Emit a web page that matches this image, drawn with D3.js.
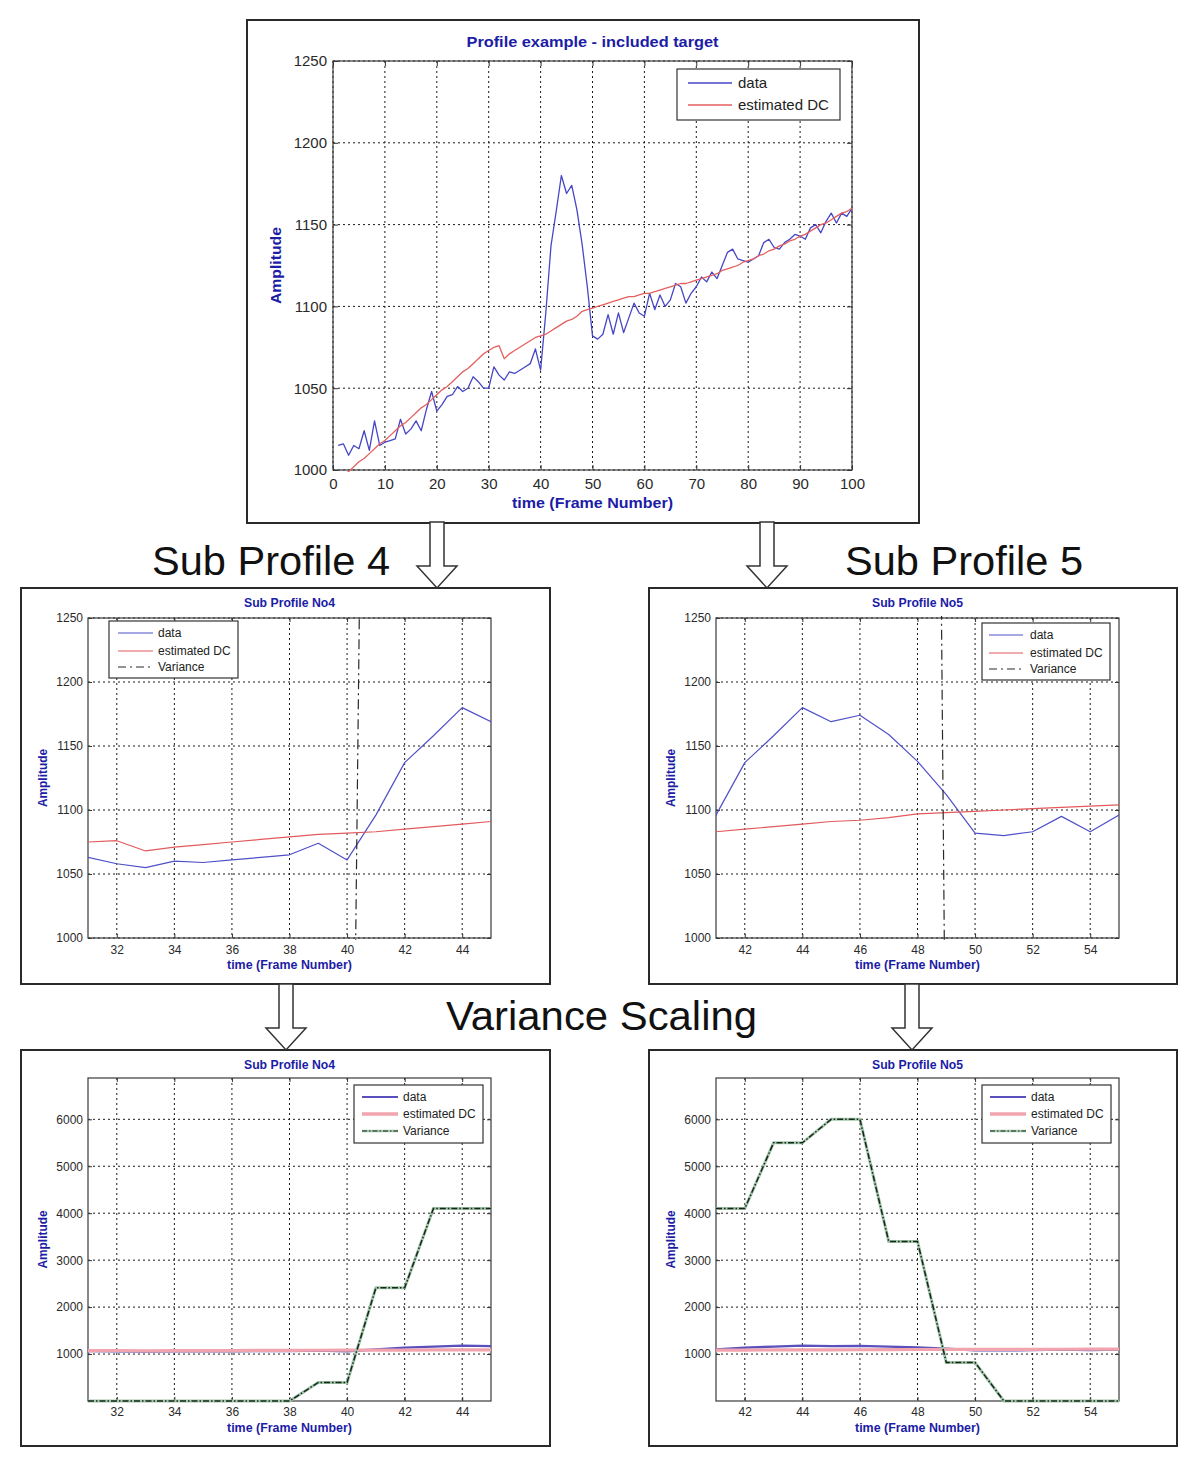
<!DOCTYPE html>
<html><head><meta charset="utf-8">
<script src="https://cdn.jsdelivr.net/npm/d3@7"></script>
<style>
body{margin:0;background:#fff}
svg{display:block}
text{font-family:"Liberation Sans",Arial,Helvetica,sans-serif}
</style>
</head><body>
<svg id="c" width="1200" height="1461"></svg>
<script>
// ---------------- DATA ----------------
const frames = d3.range(1, 101);
const dataValues = [
 1015,1016,1009,1015,1013,1024,1012,1030,1015,1017,
 1018,1019,1031,1022,1025,1030,1024,1037,1048,1036,
 1040,1045,1046,1051,1048,1050,1057,1054,1050,1050,
 1063,1058,1055,1060,1059,1061,1063,1065,1074,1061,
 1096,1137,1158,1180,1169,1174,1159,1138,1112,1082,
 1080,1083,1095,1083,1096,1084,1093,1102,1096,1094,
 1108,1098,1107,1100,1104,1114,1112,1102,1108,1112,
 1118,1115,1121,1117,1125,1133,1135,1129,1128,1127,
 1129,1131,1139,1141,1136,1135,1139,1141,1144,1143,
 1141,1148,1150,1145,1152,1157,1151,1157,1155,1160];
const dcValues = [
 994,997,999,1002,1005,1007,1010,1013,1016,1018,
 1021,1024,1027,1029,1032,1035,1038,1040,1043,1046,
 1049,1051,1054,1057,1060,1062,1065,1068,1071,1073,
 1075,1076,1068,1071,1073,1075,1077,1079,1081,1082,
 1083,1085,1087,1089,1091,1092,1094,1097,1098,1099,
 1100,1101,1102,1103,1104,1105,1106,1106,1107,1108,
 1108,1109,1110,1111,1112,1113,1114,1114,1115,1116,
 1117,1118,1119,1120,1122,1123,1124,1125,1127,1128,
 1129,1131,1132,1134,1135,1137,1138,1140,1141,1143,
 1144,1146,1148,1150,1151,1153,1155,1157,1158,1160];
const var4Frames = [31,32,33,34,35,36,37,38,39,40,41,42,43,44,45];
const var4Values = [0,0,0,0,0,0,0,0,395,395,2410,2410,4100,4100,4100];
const var5Frames = [41,42,43,44,45,46,47,48,49,50,51,52,53,54,55];
const var5Values = [4100,4100,5500,5500,6000,6000,3400,3400,820,820,0,0,0,0,0];

const topXTicks = [0,10,20,30,40,50,60,70,80,90,100];
const ampTicks = [1000,1050,1100,1150,1200,1250];
const sub4XTicks = [32,34,36,38,40,42,44];
const sub5XTicks = [42,44,46,48,50,52,54];
const scaledYTicks = [1000,2000,3000,4000,5000,6000];
const legendTop = ["data","estimated DC"];
const legendSub = ["data","estimated DC","Variance"];

// ---------------- DRAW ----------------
const svg = d3.select("#c");
const BLUE_TXT = "#1c1ca6";
const pair = (xs, ys) => xs.map((v,i)=>[v, ys[i]]);
const mainData = pair(frames, dataValues);
const mainDC = pair(frames, dcValues);
let clipId = 0;

function drawPanel(c){
  const g = svg.append("g");
  g.append("rect").attr("x",c.fx).attr("y",c.fy).attr("width",c.fw).attr("height",c.fh)
    .attr("fill","#fff").attr("stroke","#2a2a2a").attr("stroke-width",2);
  const x = d3.scaleLinear().domain(c.xd).range([c.l,c.r]);
  const y = d3.scaleLinear().domain(c.yd).range([c.b,c.t]);
  g.append("rect").attr("x",c.l).attr("y",c.t).attr("width",c.r-c.l).attr("height",c.b-c.t).attr("fill","#fff");
  // grid
  g.append("g").selectAll("line").data(c.xt).join("line")
    .attr("x1",d=>x(d)).attr("x2",d=>x(d)).attr("y1",c.t).attr("y2",c.b)
    .attr("stroke","#1a1a1a").attr("stroke-width",1).attr("stroke-dasharray","2,3");
  g.append("g").selectAll("line").data(c.yt).join("line")
    .attr("y1",d=>y(d)).attr("y2",d=>y(d)).attr("x1",c.l).attr("x2",c.r)
    .attr("stroke","#1a1a1a").attr("stroke-width",1).attr("stroke-dasharray","2,3");
  // axes
  const fmt = d3.format("d");
  const ax = g.append("g").attr("transform",`translate(0,${c.b})`)
    .call(d3.axisBottom(x).tickValues(c.xt).tickFormat(fmt).tickSizeInner(-c.tick).tickSizeOuter(0).tickPadding(c.xpad));
  const ay = g.append("g").attr("transform",`translate(${c.l},0)`)
    .call(d3.axisLeft(y).tickValues(c.yt).tickFormat(fmt).tickSizeInner(-c.tick).tickSizeOuter(0).tickPadding(c.ypad));
  const at = g.append("g").attr("transform",`translate(0,${c.t})`)
    .call(d3.axisTop(x).tickValues(c.xt).tickFormat("").tickSizeInner(-c.tick).tickSizeOuter(0));
  const ar = g.append("g").attr("transform",`translate(${c.r},0)`)
    .call(d3.axisRight(y).tickValues(c.yt).tickFormat("").tickSizeInner(-c.tick).tickSizeOuter(0));
  [ax,ay,at,ar].forEach(a=>{
    a.select(".domain").remove();
    a.selectAll("line").attr("stroke","#333");
    a.selectAll("text").attr("fill","#2a2a2a").attr("font-size",c.tfs)
      .attr("font-family",'"Liberation Sans",Arial,sans-serif');
  });
  g.append("rect").attr("x",c.l).attr("y",c.t).attr("width",c.r-c.l).attr("height",c.b-c.t)
    .attr("fill","none").attr("stroke","#3a3a3a").attr("stroke-width",1.2);
  // clip
  const id = "clip"+(clipId++);
  svg.append("clipPath").attr("id",id).append("rect")
    .attr("x",c.l).attr("y",c.t-2).attr("width",c.r-c.l).attr("height",c.b-c.t+4);
  const plot = g.append("g").attr("clip-path",`url(#${id})`);
  const line = d3.line().x(d=>x(d[0])).y(d=>y(d[1]));
  plot.append("path").datum(mainData).attr("d",line).attr("fill","none")
    .attr("stroke",c.dataColor).attr("stroke-width",c.dataW).attr("stroke-linejoin","round");
  plot.append("path").datum(mainDC).attr("d",line).attr("fill","none")
    .attr("stroke",c.dcColor).attr("stroke-width",c.dcW).attr("stroke-linejoin","round");
  if(c.variance){
    const vd = pair(c.variance[0], c.variance[1]);
    if(c.scaled){
      plot.append("path").datum(vd).attr("d",line).attr("fill","none")
        .attr("stroke","#a3c6aa").attr("stroke-width",3);
      plot.append("path").datum(vd).attr("d",line).attr("fill","none")
        .attr("stroke","#15261b").attr("stroke-width",1.5).attr("stroke-dasharray","6,2,1.5,2");
    } else {
      plot.append("path").datum(vd).attr("d",line).attr("fill","none")
        .attr("stroke","#2a2a2a").attr("stroke-width",1.2).attr("stroke-dasharray","10,4,2,4");
    }
  }
  // labels
  g.append("text").attr("x",(c.l+c.r)/2).attr("y",c.titleY).attr("text-anchor","middle")
    .attr("font-weight","bold").attr("font-size",c.lfs).attr("fill",BLUE_TXT)
    .attr("textLength",c.titleW).attr("lengthAdjust","spacingAndGlyphs").text(c.title);
  g.append("text").attr("x",(c.l+c.r)/2).attr("y",c.xlabY).attr("text-anchor","middle")
    .attr("font-weight","bold").attr("font-size",c.lfs).attr("fill",BLUE_TXT)
    .attr("textLength",c.xlabW).attr("lengthAdjust","spacingAndGlyphs").text("time (Frame Number)");
  g.append("text").attr("transform",`translate(${c.ylabX},${(c.t+c.b)/2}) rotate(-90)`)
    .attr("text-anchor","middle").attr("font-weight","bold").attr("font-size",c.lfs).attr("fill",BLUE_TXT)
    .attr("textLength",c.ylabW).attr("lengthAdjust","spacingAndGlyphs").text("Amplitude");
  // legend
  const L = c.legend;
  g.append("rect").attr("x",L.x).attr("y",L.y).attr("width",L.w).attr("height",L.h)
    .attr("fill","#fff").attr("stroke","#333").attr("stroke-width",1.2);
  const styles = [
    {stroke:c.dataColor, w:c.legDataW, dash:null},
    {stroke:c.dcColor, w:c.legDcW, dash:null},
    {stroke:c.scaled?"#15261b":"#2a2a2a", w:1.2, dash:c.scaled?"5,2,1.5,2":"8,4,2,4"}
  ];
  L.items.forEach((name,i)=>{
    const yy = L.rows[i];
    const s = styles[i];
    if(i===2 && c.scaled){
      g.append("line").attr("x1",L.s0).attr("x2",L.s1).attr("y1",yy).attr("y2",yy)
        .attr("stroke","#a3c6aa").attr("stroke-width",2.5);
    }
    g.append("line").attr("x1",L.s0).attr("x2",L.s1).attr("y1",yy).attr("y2",yy)
      .attr("stroke",s.stroke).attr("stroke-width",s.w).attr("stroke-dasharray",s.dash);
    g.append("text").attr("x",L.tx).attr("y",yy).attr("dy","0.35em")
      .attr("font-size",L.fs).attr("fill","#222").text(name);
  });
}

const topCfg = {fx:247,fy:20,fw:672,fh:503,l:333,r:852,t:61,b:470,
  xd:[0,100],yd:[1000,1250],xt:topXTicks,yt:ampTicks,tick:5,xpad:8,ypad:6,tfs:15,lfs:15,
  title:"Profile example - included target",titleY:47,titleW:252,xlabY:508,xlabW:161,ylabX:281,ylabW:77,
  dataColor:"#4646c6",dataW:1.3,dcColor:"#e4605f",dcW:1.3,legDataW:1.3,legDcW:1.3,
  legend:{x:677,y:69,w:163,h:51,rows:[83,105],s0:688,s1:732,tx:738,fs:15,items:legendTop}};
drawPanel(topCfg);

const midBase = {fy:588,fh:396,t:618,b:938,yd:[1000,1250],yt:ampTicks,tick:4,xpad:7,ypad:5,tfs:12,lfs:12,
  titleY:607,titleW:91,xlabY:969,xlabW:125,ylabW:58,
  dataColor:"#5050c8",dataW:1.2,dcColor:"#e25a5c",dcW:1.2,legDataW:1.2,legDcW:1.2};
drawPanel(Object.assign({}, midBase, {fx:21,fw:529,l:88,r:491,xd:[31,45],xt:sub4XTicks,
  title:"Sub Profile No4",ylabX:47,variance:[var4Frames,var4Values],
  legend:{x:109,y:621,w:129,h:57,rows:[633,651,667],s0:118,s1:153,tx:158,fs:12,items:legendSub}}));
drawPanel(Object.assign({}, midBase, {fx:649,fw:528,l:716,r:1119,xd:[41,55],xt:sub5XTicks,
  title:"Sub Profile No5",ylabX:675,variance:[var5Frames,var5Values],
  legend:{x:982,y:623,w:128,h:57,rows:[635,653,669],s0:989,s1:1023,tx:1030,fs:12,items:legendSub}}));

const botBase = {fy:1050,fh:396,t:1078,b:1401,yd:[0,6880],yt:scaledYTicks,tick:4,xpad:6,ypad:5,tfs:12,lfs:12,
  titleY:1069,titleW:91,xlabY:1432,xlabW:125,ylabW:58,scaled:true,
  dataColor:"#5a50bc",dataW:2.4,dcColor:"#f2a4ae",dcW:3.2,legDataW:2,legDcW:3.5};
drawPanel(Object.assign({}, botBase, {fx:21,fw:529,l:88,r:491,xd:[31,45],xt:sub4XTicks,
  title:"Sub Profile No4",ylabX:47,variance:[var4Frames,var4Values],
  legend:{x:354,y:1085,w:129,h:58,rows:[1097,1114,1131],s0:362,s1:398,tx:403,fs:12,items:legendSub}}));
drawPanel(Object.assign({}, botBase, {fx:649,fw:528,l:716,r:1119,xd:[41,55],xt:sub5XTicks,
  title:"Sub Profile No5",ylabX:675,variance:[var5Frames,var5Values],
  legend:{x:982,y:1085,w:129,h:58,rows:[1097,1114,1131],s0:990,s1:1026,tx:1031,fs:12,items:legendSub}}));

// ---------------- ARROWS & CAPTIONS ----------------
function arrow(cx, y0, yh, y1){
  const sw=7, hw=20;
  svg.append("path")
    .attr("d",`M${cx-sw},${y0}L${cx+sw},${y0}L${cx+sw},${yh}L${cx+hw},${yh}L${cx},${y1}L${cx-hw},${yh}L${cx-sw},${yh}Z`)
    .attr("fill","#fff").attr("stroke","#333").attr("stroke-width",1.5).attr("stroke-linejoin","miter");
}
arrow(437,522,566,588);
arrow(767,522,566,588);
arrow(286,984,1028,1050);
arrow(912,984,1028,1050);

function caption(x, y, w, s){
  svg.append("text").attr("x",x).attr("y",y).attr("font-size",41).attr("fill","#111")
    .attr("textLength",w).attr("lengthAdjust","spacingAndGlyphs").text(s);
}
caption(152,575,238,"Sub Profile 4");
caption(845,575,238,"Sub Profile 5");
caption(446,1030,311,"Variance Scaling");
</script>
</body></html>
